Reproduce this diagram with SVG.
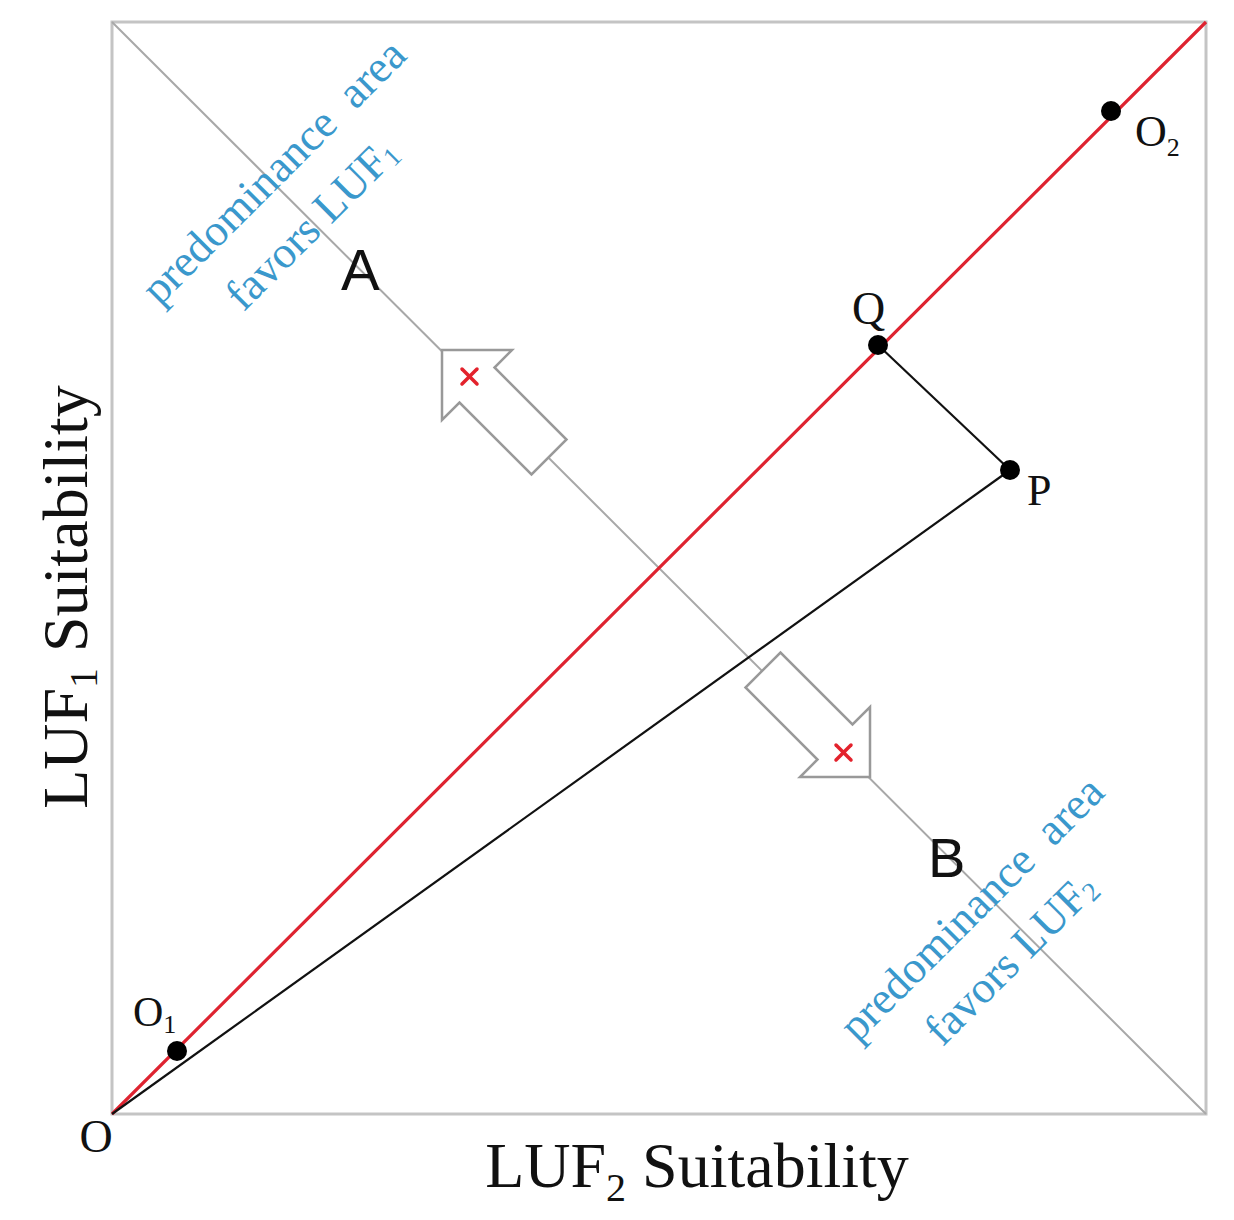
<svg xmlns="http://www.w3.org/2000/svg" width="1234" height="1220" viewBox="0 0 1234 1220">
<defs>
<style>
.frame{fill:none;stroke:#c4c4c4;stroke-width:3}
.diag{stroke:#a8a8a8;stroke-width:2;fill:none}
.red{stroke:#de2330;stroke-width:3.2;fill:none}
.blk{stroke:#111;stroke-width:2.2;fill:none}
.dot{fill:#000}
.arrow{fill:#fff;stroke:#999;stroke-width:2.5;stroke-linejoin:miter}
.x{stroke:#e3222c;stroke-width:3.5;stroke-linecap:round}
.lbl{font-family:"Liberation Serif","Times New Roman",serif;fill:#111}
.sans{font-family:"Liberation Sans",Arial,sans-serif;fill:#111}
.blue{font-family:"Liberation Serif","Times New Roman",serif;fill:#3a98cc;font-size:45px;text-anchor:middle}
</style>
<path id="blockArrow" d="M0,0 L70,0 L52.5,17.5 L124.5,89.5 L89.5,124.5 L17.5,52.5 L0,70 Z"/>
</defs>
<rect width="1234" height="1220" fill="#fff"/>
<rect class="frame" x="112" y="22" width="1094" height="1092"/>
<g id="connectors">
<line class="diag" x1="112" y1="22" x2="1206" y2="1114"/>
<line class="red" x1="112" y1="1114" x2="1206" y2="22"/>
<line class="blk" x1="112" y1="1114" x2="1010" y2="470"/>
<line class="blk" x1="878" y1="345" x2="1010" y2="470"/>
</g>
<g id="arrowA">
<use href="#blockArrow" class="arrow" transform="translate(442,350)"/>
<line class="x" x1="462" y1="369" x2="477" y2="384"/>
<line class="x" x1="477" y1="369" x2="462" y2="384"/>
</g>
<g id="arrowB">
<use href="#blockArrow" class="arrow" transform="translate(870,777) rotate(180)"/>
<line class="x" x1="836" y1="745" x2="851" y2="760"/>
<line class="x" x1="851" y1="745" x2="836" y2="760"/>
</g>
<g id="pointO1"><circle class="dot" cx="177" cy="1051" r="10"/>
<text class="lbl" x="133" y="1026" font-size="42">O<tspan font-size="26" dy="7">1</tspan></text></g>
<g id="pointO2"><circle class="dot" cx="1111" cy="111" r="10"/>
<text class="lbl" x="1135" y="146" font-size="44">O<tspan font-size="26" dy="10">2</tspan></text></g>
<g id="pointQ"><circle class="dot" cx="878" cy="345" r="10"/>
<text class="lbl" x="852" y="324" font-size="46">Q</text></g>
<g id="pointP"><circle class="dot" cx="1010" cy="470" r="10"/>
<text class="lbl" x="1027" y="505" font-size="44">P</text></g>
<g id="pointO"><text class="lbl" x="96" y="1152" font-size="46" text-anchor="middle">O</text></g>
<g id="labelA"><text class="sans" x="341" y="290" font-size="58">A</text></g>
<g id="labelB"><text class="sans" x="928" y="877" font-size="56">B</text></g>
<g id="areaLUF1">
<text class="blue" transform="translate(284,182) rotate(-45)">predominance&#160; area</text>
<text class="blue" transform="translate(322,234) rotate(-45)">favors LUF<tspan font-size="27" dy="4">1</tspan></text>
</g>
<g id="areaLUF2">
<text class="blue" transform="translate(982,919) rotate(-45)">predominance&#160; area</text>
<text class="blue" transform="translate(1021,969) rotate(-45)">favors LUF<tspan font-size="27" dy="4">2</tspan></text>
</g>
<g id="axisY"><text class="lbl" font-size="64" text-anchor="middle" transform="translate(87,597) rotate(-90)">LUF<tspan font-size="40" dy="10">1</tspan><tspan dy="-10"> Suitability</tspan></text></g>
<g id="axisX"><text class="lbl" font-size="64" x="697" y="1187" text-anchor="middle">LUF<tspan font-size="40" dy="14">2</tspan><tspan dy="-14"> Suitability</tspan></text></g>
</svg>
